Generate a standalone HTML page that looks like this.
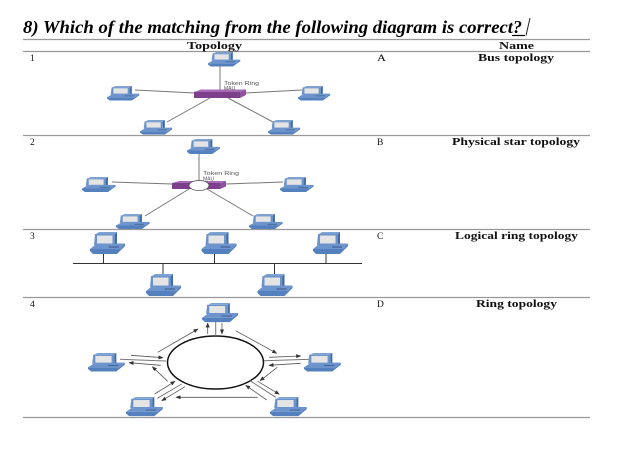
<!DOCTYPE html>
<html>
<head>
<meta charset="utf-8">
<style>
html,body{margin:0;padding:0;background:#fff;width:644px;height:467px;overflow:hidden}
svg{display:block;filter:blur(.35px)}
text{font-family:"Liberation Serif",serif;fill:#222}
.b{font-weight:bold;font-size:10px;fill:#111}
.n{font-size:9.5px;fill:#111}
.s{font-family:"Liberation Sans",sans-serif;font-size:5px;fill:#555}
.r{stroke:#999;stroke-width:1.2}
.l{stroke:#777;stroke-width:1;fill:none}
.a{stroke:#555;stroke-width:.8;fill:none;marker-end:url(#ah)}
</style>
</head>
<body>
<svg width="644" height="467" viewBox="0 0 644 467" xmlns="http://www.w3.org/2000/svg">
<defs>
<marker id="ah" markerWidth="5" markerHeight="4" refX="4.5" refY="2" orient="auto" markerUnits="userSpaceOnUse"><path d="M0 0L5 2L0 4Z" fill="#333"/></marker>
<g id="pc">
<polygon points="6,2 9,0 27,0 25,2" fill="#7ea2d2"/>
<polygon points="25,2 27,0 27,12 25,13" fill="#3f6aa5"/>
<polygon points="5,2 25,2 25,13 4,13" fill="#6b93cb"/>
<rect x="7" y="3.5" width="15.5" height="8" fill="#e4e4e4"/>
<polygon points="5,13 27,11.5 35,11.5 30,17 0,17" fill="#6d94cc"/>
<polygon points="0,17 30,17 35,11.5 35,14 29,20 27,22 3,22 1,20 0,19" fill="#5480bd"/>
<line x1="19" y1="15" x2="29" y2="15" stroke="#2d4a78" stroke-width=".8"/>
</g>
</defs>

<text x="23" y="33" font-size="18" font-weight="bold" font-style="italic" textLength="490" lengthAdjust="spacingAndGlyphs" style="fill:#000">8) Which of the matching from the following diagram is correct</text>
<text x="513" y="33" font-size="18" font-weight="bold" font-style="italic" style="fill:#000">?</text>
<line x1="512" y1="35.5" x2="525" y2="35.5" stroke="#000" stroke-width="1.2"/>
<line x1="526" y1="35.5" x2="530" y2="18" stroke="#222" stroke-width="1"/>

<line class="r" x1="23" y1="39.5" x2="590" y2="39.5"/>
<line class="r" x1="23" y1="51.5" x2="590" y2="51.5"/>
<line class="r" x1="23" y1="135.5" x2="590" y2="135.5"/>
<line class="r" x1="23" y1="229.5" x2="590" y2="229.5"/>
<line class="r" x1="23" y1="297.5" x2="590" y2="297.5"/>
<line class="r" x1="23" y1="417.5" x2="590" y2="417.5"/>

<text class="b" x="187" y="49" textLength="55" lengthAdjust="spacingAndGlyphs">Topology</text>
<text class="b" x="499" y="49" textLength="35" lengthAdjust="spacingAndGlyphs">Name</text>
<text class="b" x="478" y="61" textLength="76" lengthAdjust="spacingAndGlyphs">Bus topology</text>
<text class="b" x="452" y="145" textLength="128" lengthAdjust="spacingAndGlyphs">Physical star topology</text>
<text class="b" x="455" y="239" textLength="123" lengthAdjust="spacingAndGlyphs">Logical ring topology</text>
<text class="b" x="476" y="307" textLength="81" lengthAdjust="spacingAndGlyphs">Ring topology</text>
<text class="n" x="30" y="61">1</text><text class="n" x="377" y="61" textLength="9" lengthAdjust="spacingAndGlyphs">A</text>
<text class="n" x="30" y="145">2</text><text class="n" x="377" y="145">B</text>
<text class="n" x="30" y="239">3</text><text class="n" x="377" y="239">C</text>
<text class="n" x="30" y="307">4</text><text class="n" x="377" y="307">D</text>

<!-- row 1 -->
<line class="l" x1="220" y1="66" x2="220" y2="90"/>
<line class="l" x1="135" y1="90" x2="195" y2="93"/>
<line class="l" x1="245" y1="93" x2="302" y2="90"/>
<line class="l" x1="167" y1="122" x2="210" y2="98"/>
<line class="l" x1="273" y1="122" x2="228" y2="98"/>
<polygon points="194,92 201,89.5 246,89.5 240,92" fill="#a66bb5"/>
<rect x="194" y="92" width="46" height="6" fill="#7d3f8c"/>
<polygon points="240,92 246,89.5 246,95 240,98" fill="#8f52a0"/>
<text class="s" x="224" y="85" textLength="35" lengthAdjust="spacingAndGlyphs">Token Ring</text>
<text class="s" x="224" y="90">MAU</text>
<use href="#pc" transform="translate(208,52) scale(.92,.66)"/>
<use href="#pc" transform="translate(107,86) scale(.92,.66)"/>
<use href="#pc" transform="translate(298,86) scale(.92,.66)"/>
<use href="#pc" transform="translate(140,120) scale(.92,.66)"/>
<use href="#pc" transform="translate(268,120) scale(.92,.66)"/>

<!-- row 2 -->
<line class="l" x1="199" y1="154" x2="199" y2="181" stroke-width="1.2"/>
<line class="l" x1="112" y1="182" x2="172" y2="184"/>
<line class="l" x1="226" y1="184" x2="283" y2="182"/>
<line class="l" x1="145" y1="216" x2="189" y2="189"/>
<line class="l" x1="253" y1="216" x2="207" y2="189"/>
<polygon points="172,183 179,181 226,181 220,183" fill="#a66bb5"/>
<rect x="172" y="183" width="48" height="6" fill="#7d3f8c"/>
<polygon points="220,183 226,181 226,186.5 220,189" fill="#8f52a0"/>
<ellipse cx="199" cy="185.5" rx="10" ry="5" fill="#fff" stroke="#444" stroke-width=".7"/>
<text class="s" x="203" y="175" textLength="36" lengthAdjust="spacingAndGlyphs">Token Ring</text>
<text class="s" x="203" y="180.5">MAU</text>
<use href="#pc" transform="translate(187,139) scale(.94,.68)"/>
<use href="#pc" transform="translate(82,177) scale(.96,.68)"/>
<use href="#pc" transform="translate(280,177) scale(.96,.68)"/>
<use href="#pc" transform="translate(116,214) scale(.96,.68)"/>
<use href="#pc" transform="translate(249,214) scale(.96,.68)"/>

<!-- row 3 -->
<g stroke="#333" stroke-width="1">
<line x1="73" y1="263.5" x2="362" y2="263.5"/>
<line x1="103.5" y1="253" x2="103.5" y2="263"/>
<line x1="214.5" y1="253" x2="214.5" y2="263"/>
<line x1="326" y1="253" x2="326" y2="263"/>
<line x1="163" y1="264" x2="163" y2="274"/>
<line x1="274.5" y1="264" x2="274.5" y2="274"/>
</g>
<use href="#pc" transform="translate(90,232)"/>
<use href="#pc" transform="translate(201.5,232)"/>
<use href="#pc" transform="translate(313,232)"/>
<use href="#pc" transform="translate(146,274)"/>
<use href="#pc" transform="translate(257.5,274)"/>

<!-- row 4 -->
<ellipse cx="215.5" cy="362.5" rx="48" ry="26.5" fill="#fff" stroke="#111" stroke-width="1.5"/>
<line class="l" x1="215.7" y1="322" x2="215.7" y2="336"/>
<line class="l" x1="120" y1="359.3" x2="166" y2="361"/>
<line class="l" x1="264" y1="360.7" x2="310" y2="359.3"/>
<line class="l" x1="157.3" y1="398.3" x2="181.7" y2="384"/>
<line class="l" x1="250" y1="380.7" x2="275.7" y2="397.3"/>
<line class="a" x1="207.7" y1="334" x2="207.7" y2="323"/>
<line class="a" x1="222" y1="323" x2="222" y2="334"/>
<line class="a" x1="157.7" y1="352.3" x2="198" y2="329"/>
<line class="a" x1="235.7" y1="330.7" x2="276.7" y2="353.3"/>
<line class="a" x1="131" y1="355.3" x2="163" y2="357.7"/>
<line class="a" x1="160.7" y1="365.3" x2="129" y2="362.7"/>
<line class="a" x1="269" y1="357.3" x2="300.7" y2="356"/>
<line class="a" x1="300.7" y1="363.3" x2="269" y2="365.3"/>
<line class="a" x1="277.3" y1="367.3" x2="260" y2="380.7"/>
<line class="a" x1="167.7" y1="381.3" x2="152.3" y2="366.7"/>
<line class="a" x1="154.7" y1="394" x2="175" y2="381.3"/>
<line class="a" x1="185" y1="386.7" x2="161.7" y2="400.7"/>
<line class="a" x1="257.7" y1="381.3" x2="279.3" y2="394.3"/>
<line class="a" x1="266.7" y1="400" x2="245.7" y2="385.3"/>
<line class="a" x1="257.7" y1="397.3" x2="176" y2="397.3"/>
<use href="#pc" transform="translate(202,303) scale(1.03,.87)"/>
<use href="#pc" transform="translate(88,353) scale(1.05,.84)"/>
<use href="#pc" transform="translate(304,353) scale(1.05,.84)"/>
<use href="#pc" transform="translate(126,397) scale(1.05,.87)"/>
<use href="#pc" transform="translate(270,397) scale(1.05,.87)"/>
</svg>
</body>
</html>
